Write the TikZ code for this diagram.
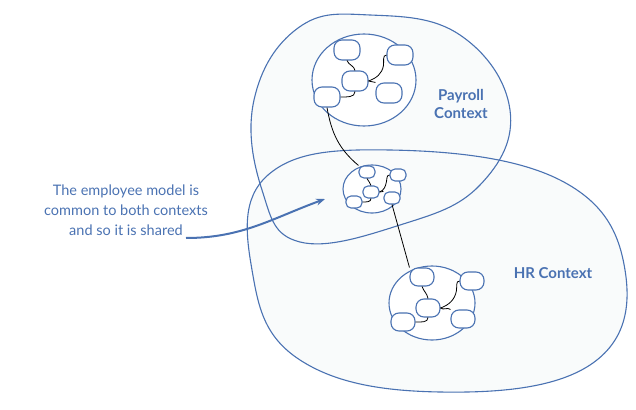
\documentclass[tikz,border=0pt]{standalone}
\usepackage{fontspec}
\setmainfont{Lato}
\usetikzlibrary{arrows.meta}
\usetikzlibrary{shapes.geometric}
\definecolor{ctxblue}{HTML}{4A72B2}
\definecolor{ctxfill}{HTML}{F9FBFB}
\tikzset{
  box/.style={draw=ctxblue, line width=1.1pt, rounded corners=8pt, fill=white},
  small box/.style={box, rounded corners=5pt, minimum width=16pt, minimum height=12pt},
  model/.style={draw=ctxblue, line width=1.1pt, fill=white},
  link/.style={draw=black, line width=0.8pt},
  ctxlabel/.style={text=ctxblue, font=\bfseries\fontsize{15}{18}\selectfont, align=center}
}
\begin{document}
\begin{tikzpicture}[x=1pt,y=-1pt]
  \useasboundingbox (0,0) rectangle (636,409);
  % bounded contexts
  \fill[ctxfill] plot[smooth cycle, tension=0.7] coordinates {(254,100) (298,28) (370,15) (460,35) (510,110) (480,185) (400,225) (300,242) (262,190)};
  \fill[ctxfill] plot[smooth cycle, tension=0.7] coordinates {(268,175) (390,150) (560,180) (625,270) (590,365) (440,392) (300,360) (252,270)};
  \draw[ctxblue, line width=1.1pt] plot[smooth cycle, tension=0.7] coordinates {(254,100) (298,28) (370,15) (460,35) (510,110) (480,185) (400,225) (300,242) (262,190)};
  \draw[ctxblue, line width=1.1pt] plot[smooth cycle, tension=0.7] coordinates {(268,175) (390,150) (560,180) (625,270) (590,365) (440,392) (300,360) (252,270)};
  \node[ctxlabel] (payroll) at (461,104) {Payroll\\Context};
  \node[ctxlabel] (hr) at (553,273) {HR Context};
  % payroll model
  \node[model, ellipse, minimum width=104pt, minimum height=92pt, inner sep=0pt] (pm) at (364,80) {};
  \node[box, minimum width=26pt, minimum height=20pt] (pa) at (347,50) {};
  \node[box, minimum width=26pt, minimum height=20pt] (pb) at (400,55) {};
  \node[box, minimum width=26pt, minimum height=20pt] (pc) at (355,81) {};
  \node[box, minimum width=26pt, minimum height=20pt] (pd) at (389,93) {};
  \node[box, minimum width=26pt, minimum height=20pt] (pe) at (327,97) {};
  % shared employee model
  \node[model, ellipse, minimum width=58pt, minimum height=48pt, inner sep=0pt] (em) at (372,189) {};
  \node[small box] (ea) at (367,172) {};
  \node[small box] (eb) at (398,175) {};
  \node[small box] (ec) at (371,192) {};
  \node[small box] (ed) at (392,198) {};
  \node[small box] (ee) at (354,202) {};
  % hr model
  \node[model, ellipse, minimum width=86pt, minimum height=74pt, inner sep=0pt] (hm) at (432,303) {};
  \node[box, minimum width=24pt, minimum height=18pt] (ha) at (422,277) {};
  \node[box, minimum width=24pt, minimum height=18pt] (hb) at (472,281) {};
  \node[box, minimum width=24pt, minimum height=18pt] (hc) at (428,308) {};
  \node[box, minimum width=24pt, minimum height=18pt] (hd) at (463,319) {};
  \node[box, minimum width=24pt, minimum height=18pt] (he) at (403,322) {};
  % links
  \foreach \m in {p,e,h} {
    \draw[link] (\m a.south) to[out=-70,in=100] (\m c.north);
    \draw[link] (\m c.east) to[out=20,in=-100] ([xshift=-3pt]\m b.south west) to[out=80,in=180] (\m b.west);
    \draw[link] (\m c.east) to[out=-40,in=140] (\m d.north west);
    \draw[link] (\m c.south) to[out=-90,in=0] (\m e.east);
  }
  \draw[link] (pe.south) to[out=-80,in=140] (ea.north west);
  \draw[link] (ed.south) -- (ha.north west);
  % note
  \node[text=ctxblue, align=center, font=\fontsize{14.5}{20}\selectfont] (note) at (126,210) {The employee model is\\common to both contexts\\and so it is shared};
  \draw[ctxblue, line width=2pt, -{Stealth[length=9pt]}] (186,238) to[out=0,in=200] (325,199);
\end{tikzpicture}
\end{document}
